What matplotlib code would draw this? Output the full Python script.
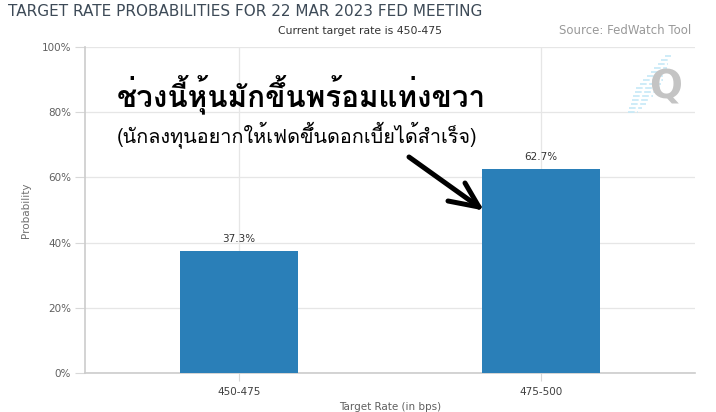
import matplotlib
matplotlib.use("Agg")
import matplotlib.pyplot as plt
from matplotlib.lines import Line2D
from matplotlib.ticker import FuncFormatter

categories = ["450-475", "475-500"]
probabilities = [37.3, 62.7]
y_ticks = [0, 20, 40, 60, 80, 100]

title = "TARGET RATE PROBABILITIES FOR 22 MAR 2023 FED MEETING"
subtitle = "Current target rate is 450-475"
source = "Source: FedWatch Tool"
thai_main = "ช่วงนี้หุ้นมักขึ้นพร้อมแท่งขวา"
thai_sub = "(นักลงทุนอยากให้เฟดขึ้นดอกเบี้ยได้สำเร็จ)"

W, H = 716, 412
fig = plt.figure(figsize=(W / 100, H / 100), dpi=100)
fig.patch.set_facecolor("white")

def fx(px):
    return px / W

def fy(py):
    return 1 - py / H

ax = fig.add_axes([fx(85), fy(373), fx(695) - fx(85), fy(47) - fy(373)])
x = list(range(len(categories)))
bars = ax.bar(x, probabilities, width=0.388, color="#2a7fb8", zorder=3)
ax.set_xlim(-0.51, 1.51)
ax.set_ylim(0, 100)
ax.set_yticks(y_ticks)
ax.yaxis.set_major_formatter(FuncFormatter(lambda v, p: f"{int(v)}%"))
ax.set_xticks(x)
ax.set_xticklabels(categories)

for s in ["top", "right"]:
    ax.spines[s].set_visible(False)
for s in ["left", "bottom"]:
    ax.spines[s].set_color("#cccccc")
    ax.spines[s].set_linewidth(1.2)

ax.grid(True, axis="both", color="#e6e6e6", linewidth=0.9, zorder=0)
ax.tick_params(axis="y", length=7, width=0.8, color="#d8d8d8", labelsize=7.5,
               labelcolor="#606060", pad=3)
ax.tick_params(axis="x", length=6, width=0.8, color="#d8d8d8", labelsize=7.5,
               labelcolor="#404040", pad=4)
for lab in ax.get_xticklabels() + ax.get_yticklabels():
    lab.set_family("DejaVu Sans")

ax.set_ylabel("Probability", fontsize=7.5, color="#707070", labelpad=8)
ax.set_xlabel("Target Rate (in bps)", fontsize=7.5, color="#606060", labelpad=4)

for b, v in zip(bars, probabilities):
    ax.annotate(f"{v}%", (b.get_x() + b.get_width() / 2, v), xytext=(0, 5),
                textcoords="offset points", ha="center", va="bottom",
                fontsize=7.5, color="#333333")

fig.text(fx(8), fy(12), title, fontsize=11, color="#3d4a57", va="center", ha="left")
fig.text(fx(360), fy(31), subtitle, fontsize=7.8, color="#333333", va="center", ha="center")
fig.text(fx(691), fy(31), source, fontsize=8.5, color="#999999", va="center", ha="right")

# watermark logo
for i in range(15):
    yy = 56 + i * 4
    xc = 668 - i * 2.5
    half = 3 + 9 * (1 - abs(i - 8) / 8)
    fig.add_artist(Line2D([fx(xc - half), fx(xc + half)], [fy(yy), fy(yy)],
                          color="#c6e9f7", linewidth=1.2, linestyle=(0, (4, 1.5))))
fig.text(fx(666), fy(88), "Q", fontsize=28, fontweight="bold", color="#c4c4c4",
         ha="center", va="center", family="DejaVu Sans")

thai_font = ["Loma", "Noto Sans Thai Looped", "DejaVu Sans"]
fig.text(fx(117), fy(95), thai_main, fontsize=21.3, fontweight="bold", color="black",
         family=thai_font, ha="left", va="center")
fig.text(fx(117), fy(135), thai_sub, fontsize=14.3, color="black",
         family=thai_font, ha="left", va="center")

# hand-drawn arrow
arrow_kw = dict(color="black", linewidth=3.6, solid_capstyle="round")
fig.add_artist(Line2D([fx(409), fx(479)], [fy(157), fy(207)], **arrow_kw))
fig.add_artist(Line2D([fx(448), fx(479)], [fy(201), fy(207)], **arrow_kw))
fig.add_artist(Line2D([fx(465), fx(479)], [fy(183), fy(207)], **arrow_kw))

fig.savefig("out.png", dpi=100)
